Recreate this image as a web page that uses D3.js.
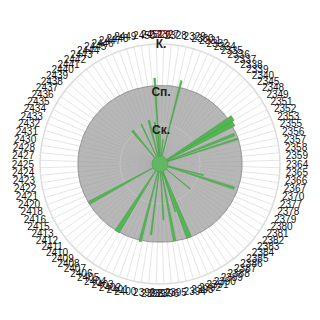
<!DOCTYPE html>
<html><head><meta charset="utf-8">
<script src="https://cdn.jsdelivr.net/npm/d3@7"></script>
<style>html,body{margin:0;padding:0;background:#fff;}svg{display:block;}</style>
</head><body>
<svg id="chart" width="320" height="320"></svg>
<script>
const categories = ["2326","2327","2328","2329","2330","2331","2332","2334","2335","2336","2337","2338","2339","2340","2345","2348","2349","2351","2352","2353","2355","2356","2357","2358","2359","2364","2365","2366","2367","2370","2377","2378","2379","2380","2381","2382","2383","2384","2385","2386","2387","2388","2389","2390","2391","2392","2393","2394","2395","2396","2397","2398","2399","2400","2401","2402","2403","2404","2405","2406","2407","2408","2409","2410","2411","2412","2413","2415","2416","2418","2420","2421","2422","2423","2424","2425","2427","2428","2430","2431","2432","2433","2434","2435","2436","2437","2438","2439","2440","2441","2442","2443","2444","2445","2446","2447","2448","2449","2450","2451"];
const highlighted = ["2326"];
const greyValues = [1.96,1.96,1.97,1.97,1.97,1.98,1.98,1.99,2.00,2.00,2.01,2.01,2.02,
2.02,2.03,2.03,2.04,2.04,2.04,2.05,2.05,2.05,2.05,2.05,2.05,2.05,
2.05,2.05,2.05,2.04,2.04,2.04,2.03,2.03,2.02,2.02,2.01,2.01,
2.00,2.00,1.99,1.99,1.98,1.98,1.97,1.97,1.96,1.96,1.96,1.95,1.95,
1.95,1.96,1.96,1.96,1.97,1.97,1.98,1.98,1.99,1.99,2.00,2.00,
2.01,2.01,2.02,2.02,2.03,2.03,2.04,2.04,2.05,2.05,2.05,2.05,2.05,
2.05,2.05,2.05,2.04,2.04,2.04,2.03,2.03,2.02,2.02,2.01,2.01,
2.00,2.00,1.99,1.99,1.98,1.98,1.97,1.97,1.96,1.96,1.96,1.96];
const greenCats   = ["2451","2330","2448","2445","2441","2450","2326","2328","2349","2351","2353","2355","2370","2377","2383","2391","2392","2394","2396","2399","2401","2406","2415"];
const greenValues = [2.15,2.15,1.12,1.10,1.08,1.05,0.75,0.62,2.15,2.10,2.00,2.05,1.12,1.95,0.98,1.98,1.25,1.95,1.40,1.78,2.00,2.00,2.02];
const greenWeight = [0.3,0.3,0.6,0.3,0.8,0.4,0.3,0.3,1,1,0.5,0.3,0.3,0.5,0.3,1,0.3,0.5,0.3,0.3,0.5,1,0.6];
const ringLevels = [1,2,3];
const ringLabels = ["Ск.","Сп.","К."];

const svg = d3.select("#chart");
const cx = 160, cy = 164;
const g = svg.append("g").attr("transform", `translate(${cx},${cy})`);
const N = categories.length;
const x = d3.scaleBand().domain(categories).range([-Math.PI/N, 2*Math.PI - Math.PI/N]).padding(0);
const bw = x.bandwidth();
const y = d3.scaleLinear().domain([0,3]).range([0,120]);

// spokes
g.append("g").selectAll("line").data(categories).join("line")
  .attr("x1",0).attr("y1",0)
  .attr("x2", d => y(3)*Math.sin(x(d)))
  .attr("y2", d => -y(3)*Math.cos(x(d)))
  .attr("stroke","#dedede").attr("stroke-width",0.8);
// outer ring
g.append("circle").attr("r", y(3)).attr("fill","none").attr("stroke","#dcdcdc").attr("stroke-width",1.5);

// grey area
const arc = d3.arc();
g.append("g").selectAll("path").data(categories).join("path")
  .attr("d", (d,i) => arc({innerRadius:0, outerRadius:y(greyValues[i]), startAngle:x(d), endAngle:x(d)+bw}))
  .attr("fill","#b7b7b7").attr("stroke","#a9a9a9").attr("stroke-width",0.5);
// outline of grey area
const line = d3.lineRadial().curve(d3.curveLinearClosed)
  .angle((d,i) => x(categories[i]) + bw/2).radius(d => y(d));
g.append("path").attr("d", line(greyValues)).attr("fill","none").attr("stroke","#8f8f8f").attr("stroke-width",0.8);

// inner ring
g.append("circle").attr("r", y(1)).attr("fill","none").attr("stroke","#c4c4c4").attr("stroke-width",0.8);

// green bars
g.append("g").selectAll("path").data(greenCats).join("path")
  .attr("d", (d,i) => {
    const mid = x(d) + bw/2, hw = greenWeight[i]*bw/2;
    return arc({innerRadius:0, outerRadius:y(greenValues[i]), startAngle:mid-hw, endAngle:mid+hw});
  })
  .attr("fill","#55b555").attr("stroke","#45a545").attr("stroke-width",0.6);
g.append("circle").attr("r",8).attr("fill","#62b862").attr("stroke","#4fa84f").attr("stroke-width",0.8);

// ring labels
g.append("g").selectAll("text").data(ringLevels).join("text")
  .attr("x", 1).attr("y", d => -y(d) + (d===3?0:(d===2?8:6)))
  .attr("text-anchor","middle").attr("dominant-baseline","central")
  .attr("font-family","Liberation Sans, Arial, sans-serif").attr("font-weight","bold").attr("font-size",12)
  .attr("fill","#222").text((d,i) => ringLabels[i]);

// category labels
const R = 126;
g.append("g").selectAll("text").data(categories).join("text")
  .each(function(d){
    const a = x(d) + bw/2, s = Math.sin(a), c = Math.cos(a);
    const sel = d3.select(this);
    sel.attr("x", R*s).attr("y", -R*c - c*3.5)
      .attr("text-anchor", s > 0.15 ? "start" : (s < -0.15 ? "end" : "middle"));
  })
  .attr("dominant-baseline","central")
  .attr("font-family","Liberation Sans, Arial, sans-serif").attr("font-size",10)
  .attr("fill", d => highlighted.includes(d) ? "#c00000" : "#111")
  .text(d => d);
</script>
</body></html>
